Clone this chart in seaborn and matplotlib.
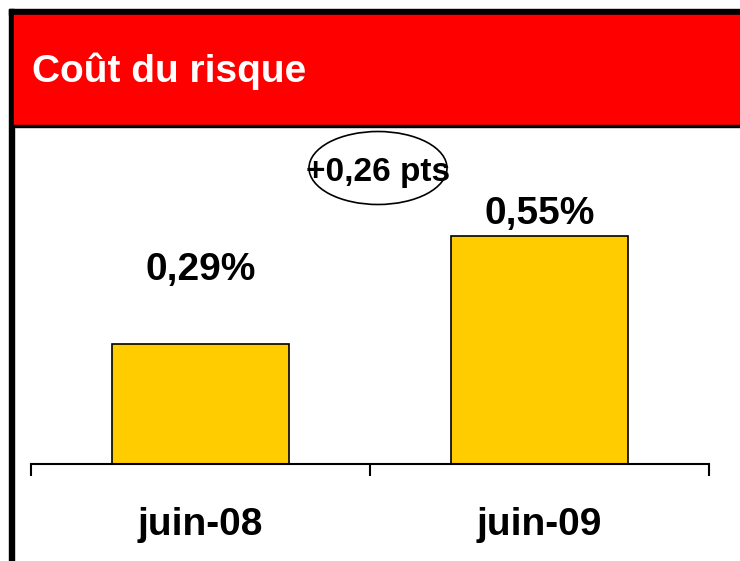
import matplotlib
matplotlib.use('Agg')
import matplotlib.pyplot as plt
import seaborn as sns
import pandas as pd
from matplotlib.patches import Rectangle, Ellipse

# Data
categories = ['juin-08', 'juin-09']
values = [0.29, 0.55]
value_labels = ['0,29%', '0,55%']
title = 'Coût du risque'
delta_label = '+0,26 pts'

sns.set_style('white')
plt.rcParams['font.family'] = ['Liberation Sans', 'DejaVu Sans']
plt.rcParams['text.color'] = 'black'
plt.rcParams['xtick.color'] = 'black'
plt.rcParams['xtick.labelcolor'] = 'black'

W, H = 740, 561
fig = plt.figure(figsize=(W / 100, H / 100), dpi=100)

def fx(px):
    return px / W

def fy(py):
    return 1 - py / H

# frame: black borders, red header
fig.patches.append(Rectangle((fx(9), fy(561)), fx(5), fy(9) - fy(561),
                             transform=fig.transFigure, color='black', zorder=0))
fig.patches.append(Rectangle((fx(9), fy(15)), 1 - fx(9), fy(9) - fy(15),
                             transform=fig.transFigure, color='black', zorder=0))
fig.patches.append(Rectangle((fx(14), fy(125)), 1 - fx(14), fy(15) - fy(125),
                             transform=fig.transFigure, color='#FF0000', zorder=0))
fig.patches.append(Rectangle((fx(14), fy(127)), 1 - fx(14), fy(125) - fy(127),
                             transform=fig.transFigure, color='black', zorder=0))
fig.text(fx(32), fy(71), title, color='white', fontsize=28, fontweight='bold',
         ha='left', va='center')

ax = fig.add_axes([fx(31), fy(464), fx(709) - fx(31), fy(127) - fy(464)])
ax.patch.set_alpha(0)

df = pd.DataFrame({'cat': categories, 'val': values})
sns.barplot(data=df, x='cat', y='val', color='#FFCC00', saturation=1,
            edgecolor='black', linewidth=1.2, width=0.525, ax=ax)

ax.set_xlim(-0.5, 1.5)
ax.set_ylim(0, 0.813)
ax.set_xlabel('')
ax.set_ylabel('')
ax.set_yticks([])
for s in ['top', 'right', 'left']:
    ax.spines[s].set_visible(False)
ax.spines['bottom'].set_linewidth(1.5)
ax.spines['bottom'].set_color('black')

ax.set_xticks([0, 1])
ax.set_xticklabels(categories, fontsize=28, fontweight='bold')
ax.tick_params(axis='x', which='major', bottom=False, pad=27.5)
ax.set_xticks([-0.5, 0.5, 1.5], minor=True)
ax.tick_params(axis='x', which='minor', bottom=True, length=8.5, width=1.5,
               color='black', direction='out')

offsets = [53, 15.5]
for i, (v, lab) in enumerate(zip(values, value_labels)):
    ax.annotate(lab, (i, v), xytext=(0, offsets[i]), textcoords='offset points',
                ha='center', va='center', fontsize=28, fontweight='bold')

# delta bubble
fig.patches.append(Ellipse((fx(378), fy(168)), fx(138), 73 / H,
                           transform=fig.transFigure, facecolor='white',
                           edgecolor='black', linewidth=1.2, zorder=1))
fig.text(fx(378), fy(173), delta_label, fontsize=24, fontweight='bold',
         ha='center', va='center', zorder=2)

fig.savefig('out.png', dpi=100)
